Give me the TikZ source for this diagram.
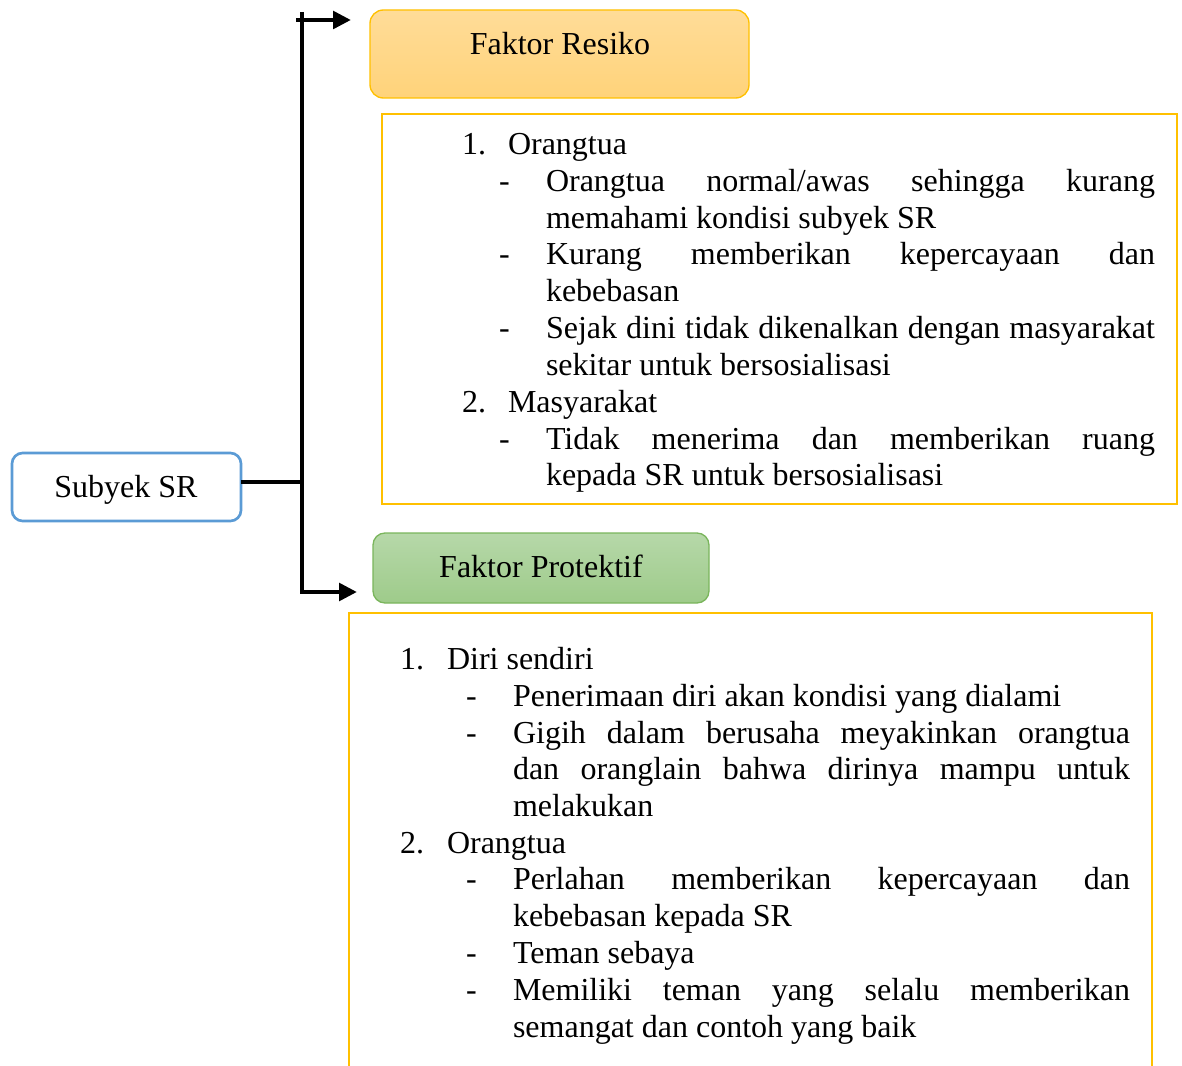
\documentclass[tikz,border=0pt]{standalone}
\usepackage{fontspec}
\setmainfont{Liberation Serif}
\usetikzlibrary{arrows.meta}
\newlength\pxu
\setlength\pxu{0.75pt}
\newcommand\jl[2]{\makebox[#1\pxu][s]{#2}}
\definecolor{ybord}{HTML}{FFC000}
\definecolor{bbord}{HTML}{5B9BD5}
\definecolor{gbord}{HTML}{7AB55C}
\definecolor{otop}{HTML}{FFDC98}
\definecolor{obot}{HTML}{FFD37A}
\definecolor{gtop}{HTML}{B6D8A9}
\definecolor{gbot}{HTML}{9ECB8A}
\tikzset{
  body/.style={font=\fontsize{24}{28}\selectfont},
  txt/.style={body, anchor=base west, inner sep=0pt, outer sep=0pt},
  lbl/.style={body, anchor=base, inner sep=0pt},
  boxnode/.style={anchor=north west, inner sep=0pt, outer sep=0pt},
  conn/.style={line width=3.5pt, black},
  tip/.style={-{Triangle[length=13.5pt,width=13pt]}},
}
\begin{document}
\begin{tikzpicture}[x=0.75pt,y=-0.75pt]
\useasboundingbox (0,0) rectangle (1182,1066);
% boxes
\node[boxnode, draw=bbord, line width=2pt, rounded corners=8pt, fill=white,
      minimum width=171.75pt, minimum height=51pt] (subyek) at (12,453) {};
\node[lbl] (subyeklbl) at (126,497) {Subyek SR};
\node[boxnode, draw=ybord, line width=1pt, rounded corners=10pt, top color=otop, bottom color=obot,
      minimum width=284.25pt, minimum height=66pt] (resiko) at (370,10) {};
\node[lbl] (resikolbl) at (560,55) {Faktor Resiko};
\node[boxnode, draw=gbord, line width=1pt, rounded corners=9pt, top color=gtop, bottom color=gbot,
      minimum width=252pt, minimum height=52.5pt] (protektif) at (373,533) {};
\node[lbl] (protektiflbl) at (541,577) {Faktor Protektif};
\node[boxnode, draw=ybord, line width=1.5pt,
      minimum width=596.25pt, minimum height=292.5pt] (resikotext) at (382,114) {};
\coordinate (pbl) at (349,1070);
\coordinate (ptl) at (349,613);
\coordinate (ptr) at (1152,613);
\coordinate (pbr) at (1152,1070);
\draw[draw=ybord, line width=1.5pt] (pbl) -- (ptl) -- (ptr) -- (pbr);
% connectors
\coordinate (vtop) at (302,12);
\coordinate (vbot) at (302,592);
\coordinate (ptip) at (357,592);
\coordinate (rstart) at (296,20);
\coordinate (rtip) at (351,20);
\coordinate (js) at (302,482);
\draw[conn, tip] (vtop) -- (vbot) -- (ptip);
\draw[conn, tip] (rstart) -- (rtip);
\draw[conn] (subyek.east |- js) -- (js);
% top text
\node[txt] (a1n) at (462,155) {1.};
\node[txt] (a1) at (508,155) {Orangtua};
\node[txt] (a2d) at (499,192) {-};
\node[txt] (a2) at (546,192) {\jl{609}{Orangtua normal/awas sehingga kurang}};
\node[txt] (a3) at (546,228.5) {memahami kondisi subyek SR};
\node[txt] (a4d) at (499,265) {-};
\node[txt] (a4) at (546,265) {\jl{609}{Kurang memberikan kepercayaan dan}};
\node[txt] (a5) at (546,302) {kebebasan};
\node[txt] (a6d) at (499,339) {-};
\node[txt] (a6) at (546,339) {\jl{609}{Sejak dini tidak dikenalkan dengan masyarakat}};
\node[txt] (a7) at (546,375) {sekitar untuk bersosialisasi};
\node[txt] (a8n) at (462,412) {2.};
\node[txt] (a8) at (508,412) {Masyarakat};
\node[txt] (a9d) at (499,449) {-};
\node[txt] (a9) at (546,449) {\jl{609}{Tidak menerima dan memberikan ruang}};
\node[txt] (a10) at (546,485) {kepada SR untuk bersosialisasi};
% bottom text
\node[txt] (b1n) at (400,669) {1.};
\node[txt] (b1) at (447,669) {Diri sendiri};
\node[txt] (b2d) at (466,706) {-};
\node[txt] (b2) at (513,706) {Penerimaan diri akan kondisi yang dialami};
\node[txt] (b3d) at (466,743) {-};
\node[txt] (b3) at (513,743) {\jl{617}{Gigih dalam berusaha meyakinkan orangtua}};
\node[txt] (b4) at (513,779.5) {\jl{617}{dan oranglain bahwa dirinya mampu untuk}};
\node[txt] (b5) at (513,816) {melakukan};
\node[txt] (b6n) at (400,853) {2.};
\node[txt] (b6) at (447,853) {Orangtua};
\node[txt] (b7d) at (466,889.5) {-};
\node[txt] (b7) at (513,889.5) {\jl{617}{Perlahan memberikan kepercayaan dan}};
\node[txt] (b8) at (513,926) {kebebasan kepada SR};
\node[txt] (b9d) at (466,963) {-};
\node[txt] (b9) at (513,963) {Teman sebaya};
\node[txt] (b10d) at (466,1000) {-};
\node[txt] (b10) at (513,1000) {\jl{617}{Memiliki teman yang selalu memberikan}};
\node[txt] (b11) at (513,1037) {semangat dan contoh yang baik};
\end{tikzpicture}
\end{document}
